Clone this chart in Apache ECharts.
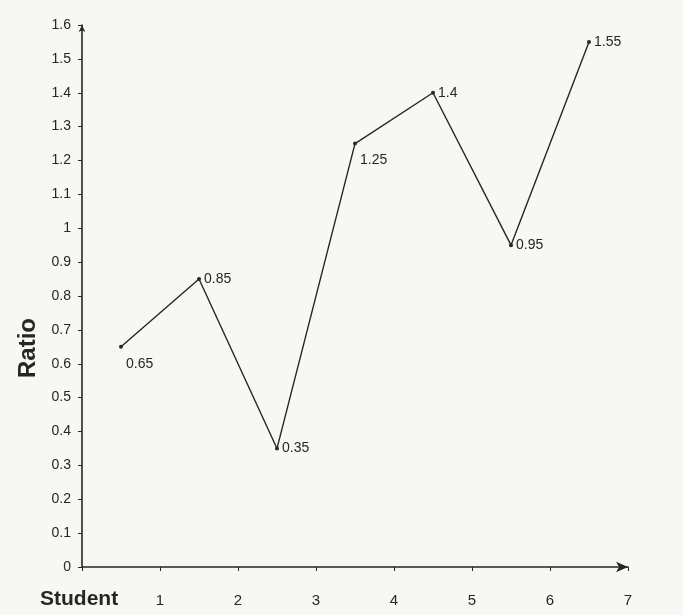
<!DOCTYPE html>
<html>
<head>
<meta charset="utf-8">
<script src="https://cdn.jsdelivr.net/npm/echarts@6/dist/echarts.min.js"></script>
<style>html,body{margin:0;padding:0;background:#f7f7f4;}#c{width:683px;height:615px;}</style>
</head>
<body>
<div id="c"></div>
<script>
// Data
const studentPos = [0.5, 1.5, 2.5, 3.5, 4.5, 5.5, 6.5];
const ratios = [0.65, 0.85, 0.35, 1.25, 1.4, 0.95, 1.55];
const ratioLabels = ['0.65', '0.85', '0.35', '1.25', '1.4', '0.95', '1.55'];
const xTickLabels = ['', '1', '2', '3', '4', '5', '6', '7'];

const FONT = "'Liberation Sans Narrow','Arial Narrow','Liberation Sans',sans-serif";
const INK = '#262626';
// label placement per point (below-right for two of them, like the reference)
const belowRight = [true, false, false, true, false, false, false];

const seriesData = studentPos.map((x, i) => ({
  value: [x, ratios[i]],
  label: belowRight[i]
    ? { position: 'right', offset: [0, 17] }
    : { position: 'right', offset: [0, 0] }
}));

const chart = echarts.init(document.getElementById('c'));
chart.setOption({
  backgroundColor: '#f7f7f4',
  animation: false,
  grid: { left: 82, right: 55, top: 25, bottom: 48, containLabel: false },
  xAxis: {
    type: 'value', min: 0, max: 7, interval: 1,
    axisLine: { show: true, symbol: ['none', 'arrow'], symbolSize: [8, 12], lineStyle: { color: INK, width: 1.6 } },
    axisTick: { show: true, length: 4, inside: false, lineStyle: { color: INK } },
    splitLine: { show: false },
    axisLabel: {
      margin: 26, color: INK, fontFamily: FONT, fontSize: 15,
      formatter: v => xTickLabels[Math.round(v)]
    }
  },
  yAxis: {
    type: 'value', min: 0, max: 1.6, interval: 0.1,
    axisLine: { show: true, symbol: ['none', 'arrow'], symbolSize: [5, 7], lineStyle: { color: INK, width: 1.6 } },
    axisTick: { show: true, length: 4, lineStyle: { color: INK } },
    splitLine: { show: false },
    axisLabel: {
      margin: 11, color: INK, fontFamily: FONT, fontSize: 14,
      formatter: v => String(Math.round(v * 10) / 10)
    }
  },
  graphic: [
    { type: 'text', left: 16, top: 318, rotation: Math.PI / 2,
      style: { text: 'Ratio', fontFamily: "'Liberation Sans','Arial',sans-serif", fontWeight: 'bold', fontSize: 24, fill: INK } },
    { type: 'text', left: 40, top: 589,
      style: { text: 'Student', fontFamily: "'Liberation Sans','Arial',sans-serif", fontWeight: 'bold', fontSize: 21, fill: INK } }
  ],
  series: [{
    type: 'line',
    data: seriesData,
    symbol: 'circle', symbolSize: 4,
    itemStyle: { color: INK },
    lineStyle: { color: INK, width: 1.4 },
    label: {
      show: true, color: INK, fontFamily: FONT, fontSize: 14, distance: 3,
      formatter: p => ratioLabels[p.dataIndex]
    }
  }]
});
</script>
</body>
</html>
